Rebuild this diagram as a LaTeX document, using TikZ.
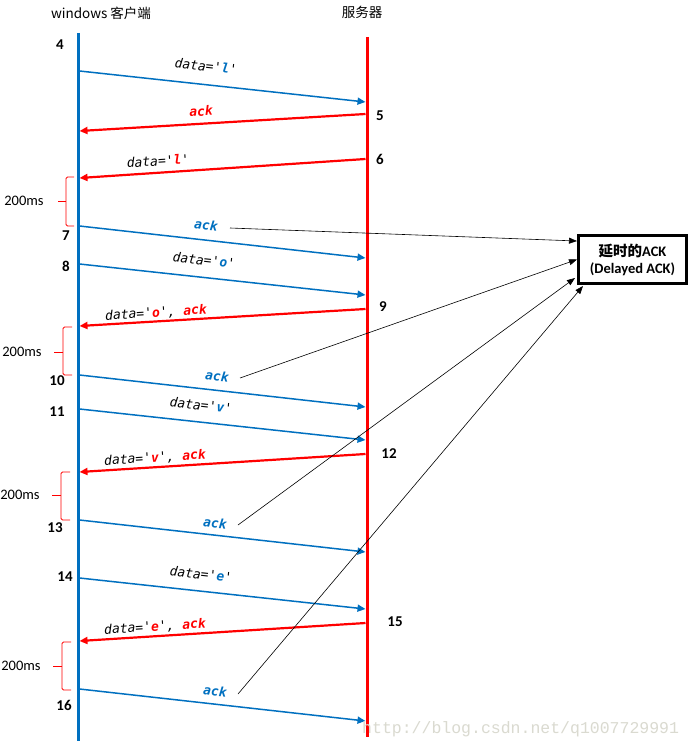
\documentclass[tikz,border=0pt]{standalone}
\usepackage{fontspec}
\setmainfont{Carlito}
\newfontfamily\cjk{Noto Sans CJK SC}
\newfontfamily\mono{DejaVu Sans Mono}[ItalicFont={DejaVu Sans Mono Oblique},BoldFont={DejaVu Sans Mono Bold},BoldItalicFont={DejaVu Sans Mono Bold Oblique}]
\newfontfamily\wmfont{Liberation Mono}
\usetikzlibrary{arrows.meta}
\definecolor{cblue}{RGB}{0,112,192}
\definecolor{cred}{RGB}{255,0,0}
\definecolor{wmcol}{RGB}{218,218,208}
\newcommand\qt{\char"27\relax}
\newcommand\lb[1]{{\bfseries\color{cblue}#1}}
\newcommand\lr[1]{{\bfseries\color{cred}#1}}
\begin{document}
\begin{tikzpicture}[x=1pt,y=-1pt,
  lifeb/.style={cblue,line width=3pt},
  lifer/.style={cred,line width=3pt},
  msgb/.style={cblue,line width=1.5pt,-{Triangle[length=8pt,width=7pt]}},
  msgr/.style={cred,line width=2.2pt,-{Triangle[length=8pt,width=7pt]}},
  num/.style={font=\fontsize{15}{15}\selectfont\bfseries,inner sep=0pt},
  mslbl/.style={font=\fontsize{13}{13}\selectfont\mono\itshape,inner sep=0pt},
  blbl/.style={mslbl,rotate=-6},
  rlbl/.style={mslbl,rotate=3.5},
  tlbl/.style={font=\fontsize{14.5}{14.5}\selectfont,inner sep=0pt},
  brc/.style={cred,line width=0.8pt,rounded corners=1.5pt},
  pointer/.style={black,line width=0.6pt,-{Triangle[length=8pt,width=6pt]}},
  hdr/.style={font=\fontsize{13.5}{13.5}\selectfont\cjk,inner sep=0pt},
  dbox/.style={draw=black,line width=3pt,minimum width=108pt,minimum height=48pt,align=center,font=\fontsize{14.5}{17}\selectfont\bfseries,inner sep=0pt}
]
\useasboundingbox (0,0) rectangle (693,749);
\fill[white] (0,0) rectangle (693,749);

% headers
\node[hdr] (hc) at (101,13) {windows 客户端};
\node[hdr] (hs) at (362,12) {服务器};

% lifelines
\coordinate (cT) at (78,33);
\coordinate (cB) at (78,741);
\coordinate (sT) at (367,37);
\coordinate (sB) at (367,737);
\draw[lifeb] (cT) -- (cB);
\draw[lifer] (sT) -- (sB);

% message end points
\foreach \n/\ya/\yb in {4/71/102,7/226/258,8/264/295,10/375/407,11/409/440,13/520/552,14/578/609,16/689/721}{
  \coordinate (b\n s) at (79.5,\ya);
  \coordinate (b\n e) at (365.5,\yb);
}
\foreach \n/\ya/\yb in {5/114/131,6/159/178,9/309/326,12/454/472,15/623/641}{
  \coordinate (r\n s) at (365.5,\ya);
  \coordinate (r\n e) at (79.5,\yb);
}
\foreach \n in {4,7,8,10,11,13,14,16}{\draw[msgb] (b\n s) -- (b\n e);}
\foreach \n in {5,6,9,12,15}{\draw[msgr] (r\n s) -- (r\n e);}

% message labels
\node[blbl] (l4) at (206,66) {data=\qt\lb{l}\qt};
\node[rlbl] (l5) at (201,111) {\lr{ack}};
\node[rlbl] (l6) at (158,161) {data=\qt\lr{l}\qt};
\node[blbl] (a7) at (206,225) {\lb{ack}};
\node[blbl] (l8) at (204,260) {data=\qt\lb{o}\qt};
\node[rlbl] (l9) at (156,313) {data=\qt\lr{o}\qt, \lr{ack}};
\node[blbl] (a10) at (217,376) {\lb{ack}};
\node[blbl] (l11) at (201,405) {data=\qt\lb{v}\qt};
\node[rlbl] (l12) at (155,458) {data=\qt\lr{v}\qt, \lr{ack}};
\node[blbl] (a13) at (215,523) {\lb{ack}};
\node[blbl] (l14) at (201,574) {data=\qt\lb{e}\qt};
\node[rlbl] (l15) at (155,627) {data=\qt\lr{e}\qt, \lr{ack}};
\node[blbl] (a16) at (215,691) {\lb{ack}};

% sequence numbers
\node[num] (n4) at (60,45) {4};
\node[num] (n5) at (380,116) {5};
\node[num] (n6) at (380,159) {6};
\node[num] (n7) at (66,236) {7};
\node[num] (n8) at (66,266) {8};
\node[num] (n9) at (383,307) {9};
\node[num] (n10) at (57,381) {10};
\node[num] (n11) at (57,412) {11};
\node[num] (n12) at (389,454) {12};
\node[num] (n13) at (55,528) {13};
\node[num] (n14) at (65,577) {14};
\node[num] (n15) at (395,622) {15};
\node[num] (n16) at (64,705) {16};

% braces and 200ms
\draw[brc] (74,177) -- (66,177) -- (66,226) -- (74,226);
\draw[brc] (66,201) -- (58,201);
\node[tlbl] (t1) at (24,201) {200ms};
\draw[brc] (72,327) -- (63,327) -- (63,375) -- (72,375);
\draw[brc] (63,352) -- (54,352);
\node[tlbl] (t2) at (22,352) {200ms};
\draw[brc] (70,472) -- (61,472) -- (61,520) -- (70,520);
\draw[brc] (61,495) -- (52,495);
\node[tlbl] (t3) at (20,495) {200ms};
\draw[brc] (71,642) -- (62,642) -- (62,690) -- (71,690);
\draw[brc] (62,666) -- (53,666);
\node[tlbl] (t4) at (21,666) {200ms};

% delayed ACK box
\node[dbox] (box) at (632.5,259.5) {{\cjk\bfseries 延时的}ACK\\(Delayed ACK)};

\coordinate (p1) at (230,228);
\coordinate (p2) at (240,378);
\coordinate (p3) at (238,525);
\coordinate (p4) at (238,694);
\draw[pointer] (p1) -- ([yshift=-7pt]box.north west);
\draw[pointer] (p2) -- (box.west);
\draw[pointer] (p3) -- ([xshift=-2pt,yshift=7pt]box.south west);
\draw[pointer] (p4) -- ([xshift=6pt,yshift=-1pt]box.south west);

% watermark
\node[font=\fontsize{16.5}{16.5}\selectfont\wmfont,text=wmcol,inner sep=0pt,anchor=west] (wm) at (362,729) {http://blog.csdn.net/q1007729991};
\end{tikzpicture}
\end{document}
